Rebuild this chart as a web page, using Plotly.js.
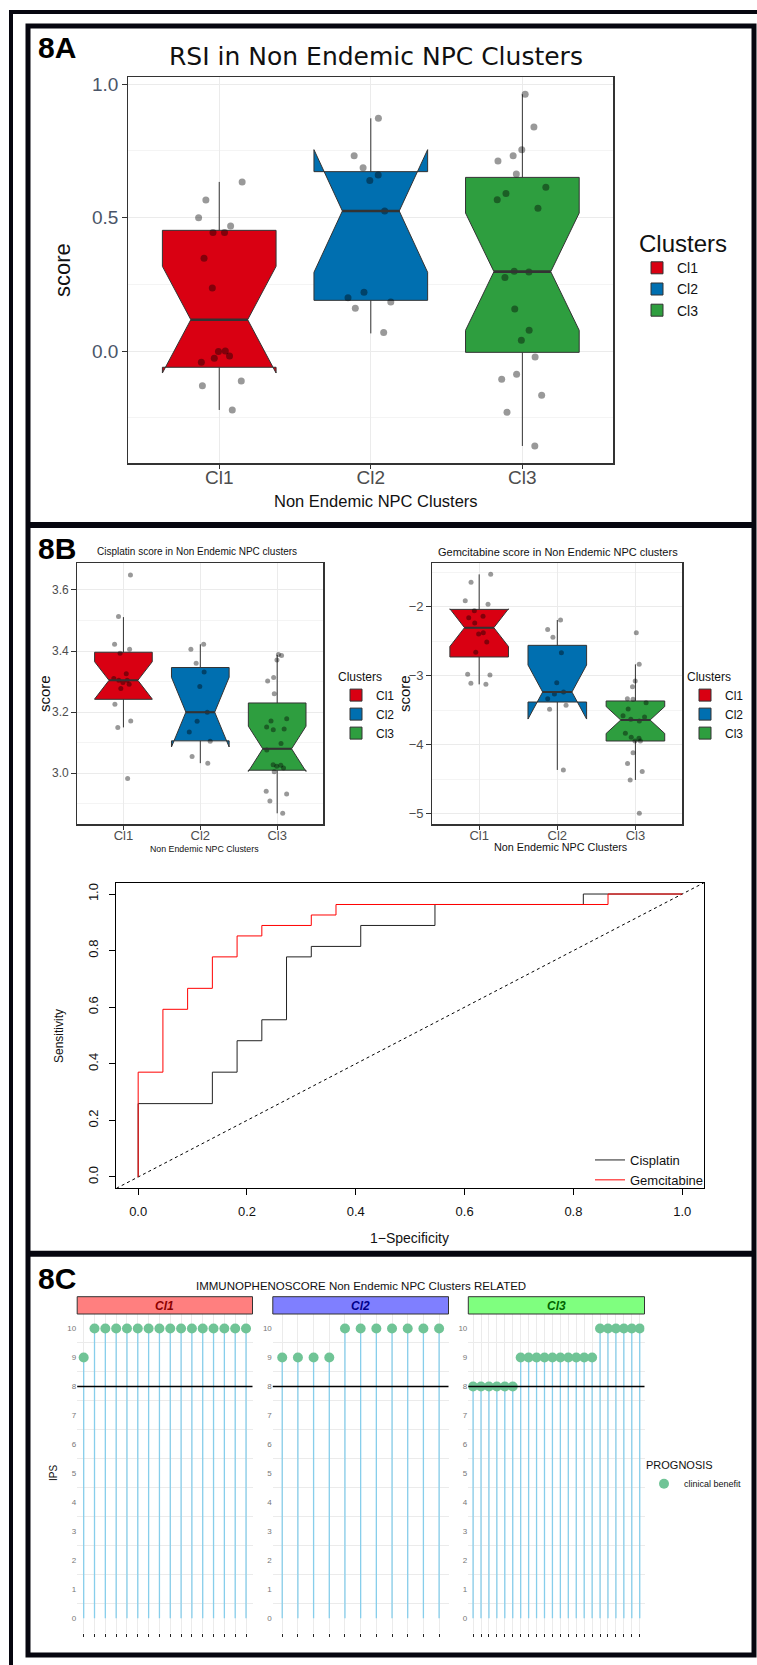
<!DOCTYPE html>
<html><head><meta charset="utf-8">
<script src="https://cdn.plot.ly/plotly-3.0.1.min.js"></script>
<style>html,body{margin:0;padding:0;background:#fff;} #chart{width:757px;height:1665px;}</style>
</head><body><div id="chart"></div>
<script>
const W = 757, H = 1665;
const px = v => v / W, py = v => 1 - v / H;

const SANS = "'Liberation Sans', Arial, sans-serif";
const DEJAVU = "'DejaVu Sans', sans-serif";

// ---------- shared ----------
const clusters = ['Cl1', 'Cl2', 'Cl3'];
const clusterFill = ['#D90012', '#006FB0', '#2E9E3F'];

// ---------- 8A : RSI ----------
const rsiCl1 = [0.634, 0.566, 0.5, 0.469, 0.444, 0.444, 0.3475, 0.236, 0.0, -0.002, -0.0275, -0.019, -0.0425, -0.1125, -0.13, -0.221];
const rsiCl2 = [0.8725, 0.7325, 0.6875, 0.66, 0.639, 0.525, 0.22, 0.2, 0.184, 0.16, 0.069];
const rsiCl3 = [0.9625, 0.84, 0.755, 0.7325, 0.7125, 0.664, 0.614, 0.591, 0.5675, 0.535, 0.299, 0.296, 0.276, 0.1575, 0.0775, 0.04, -0.0225, -0.0875, -0.106, -0.166, -0.23, -0.356];
const rsiQ1 = [-0.061, 0.19, -0.005];
const rsiMedian = [0.1175, 0.525, 0.2975];
const rsiQ3 = [0.4525, 0.6725, 0.651];
const rsiLower = [-0.221, 0.066, -0.356];
const rsiUpper = [0.634, 0.8725, 0.9625];
const rsiNotch = [0.2, 0.23, 0.22];

// ---------- 8B : Cisplatin ----------
const cisCl1 = [3.649, 3.513, 3.422, 3.406, 3.393, 3.326, 3.31, 3.304, 3.304, 3.297, 3.291, 3.277, 3.226, 3.171, 3.15, 2.983];
const cisCl2 = [3.422, 3.406, 3.36, 3.331, 3.284, 3.2, 3.17, 3.135, 3.105, 3.055, 3.033];
const cisCl3 = [3.389, 3.385, 3.371, 3.313, 3.302, 3.26, 3.178, 3.171, 3.151, 3.145, 3.142, 3.097, 3.076, 3.028, 3.026, 3.023, 3.017, 3.005, 2.941, 2.932, 2.909, 2.869];
const cisQ1 = [3.242, 3.106, 3.01];
const cisMedian = [3.304, 3.2, 3.08];
const cisQ3 = [3.396, 3.346, 3.23];
const cisLower = [3.15, 3.033, 2.869];
const cisUpper = [3.511, 3.422, 3.387];
const cisNotch = [0.061, 0.114, 0.074];

// ---------- 8B : Gemcitabine ----------
const gemCl1 = [-1.531, -1.647, -1.913, -1.966, -2.058, -2.14, -2.159, -2.237, -2.377, -2.396, -2.512, -2.662, -2.981, -2.99, -3.111, -3.126];
const gemCl2 = [-2.193, -2.329, -2.444, -2.667, -3.101, -3.237, -3.266, -3.333, -3.43, -3.488, -4.367];
const gemCl3 = [-2.377, -2.836, -3.077, -3.159, -3.333, -3.343, -3.391, -3.483, -3.58, -3.6, -3.633, -3.657, -3.836, -3.894, -3.908, -3.947, -3.947, -4.116, -4.275, -4.391, -4.512, -4.995];
const gemQ1 = [-2.729, -3.382, -3.947];
const gemMedian = [-2.304, -3.237, -3.643];
const gemQ3 = [-2.039, -2.56, -3.367];
const gemLower = [-3.126, -4.367, -4.512];
const gemUpper = [-1.531, -2.193, -2.836];
const gemNotch = [0.273, 0.392, 0.195];

// ---------- ROC ----------
const cisFPR = [0, 0.1364, 0.1818, 0.2273, 0.2727, 0.3182, 0.4091, 0.5455, 0.8182, 1.0];
const cisTPR = [0, 0.2593, 0.3704, 0.4815, 0.5556, 0.7778, 0.8148, 0.8889, 0.9630, 1.0];
const gemFPR = [0, 0.0455, 0.0909, 0.1364, 0.1818, 0.2273, 0.3182, 0.3636, 0.8636, 1.0];
const gemTPR = [0, 0.3704, 0.5926, 0.6667, 0.7778, 0.8519, 0.8889, 0.9259, 0.9630, 1.0];
const rocRange = [-0.04, 1.04];

// ---------- 8C : IPS ----------
const ipsCl1 = [9, 10, 10, 10, 10, 10, 10, 10, 10, 10, 10, 10, 10, 10, 10, 10];
const ipsCl2 = [9, 9, 9, 9, 10, 10, 10, 10, 10, 10, 10];
const ipsCl3 = [8, 8, 8, 8, 8, 8, 9, 9, 9, 9, 9, 9, 9, 9, 9, 9, 10, 10, 10, 10, 10, 10];
const ipsThreshold = 8;
const stripFill = ['#FF7F7F', '#7F7FFF', '#7FFF7F'];
const stripText = ['#8B0000', '#00008B', '#006400'];

const traces = [], shapes = [], annotations = [];

function boxPanel(xa, ya, legendId, pts, q1, med, q3, lo, hi, notch, ptSize, medW) {
  clusters.forEach((c, i) => {
    traces.push({
      type: 'box', xaxis: xa, yaxis: ya, name: c, legend: legendId,
      x: [c], q1: [q1[i]], median: [med[i]], q3: [q3[i]],
      lowerfence: [lo[i]], upperfence: [hi[i]], notchspan: [notch[i]],
      notched: true, notchwidth: 0.25, width: 0.75, whiskerwidth: 0,
      fillcolor: clusterFill[i], line: {color: '#333333', width: 1}, boxpoints: false, hoverinfo: 'skip'
    });
  });
  clusters.forEach((c, i) => {
    traces.push({
      type: 'box', xaxis: xa, yaxis: ya, name: c, showlegend: false,
      x: pts[i].map(() => c), y: pts[i], boxpoints: 'all', jitter: 0.5, pointpos: 0, width: 0.75,
      fillcolor: 'rgba(0,0,0,0)', line: {color: 'rgba(0,0,0,0)', width: 0}, whiskerwidth: 0,
      marker: {color: 'rgba(0,0,0,0.4)', size: ptSize, line: {width: 0}}, hoverinfo: 'skip'
    });
  });
  med.forEach((m, i) => shapes.push({
    type: 'line', xref: xa, yref: ya, x0: i - 0.1875, x1: i + 0.1875, y0: m, y1: m,
    line: {color: '#333333', width: medW}, layer: 'above'
  }));
}

boxPanel('x', 'y', 'legend', [rsiCl1, rsiCl2, rsiCl3], rsiQ1, rsiMedian, rsiQ3, rsiLower, rsiUpper, rsiNotch, 7, 2.6);
boxPanel('x2', 'y2', 'legend2', [cisCl1, cisCl2, cisCl3], cisQ1, cisMedian, cisQ3, cisLower, cisUpper, cisNotch, 5, 2);
boxPanel('x3', 'y3', 'legend3', [gemCl1, gemCl2, gemCl3], gemQ1, gemMedian, gemQ3, gemLower, gemUpper, gemNotch, 5, 2);

// ROC
traces.push({type: 'scatter', mode: 'lines', xaxis: 'x4', yaxis: 'y4', x: rocRange, y: rocRange,
  line: {color: '#000', width: 1, dash: 'dot'}, showlegend: false, hoverinfo: 'skip'});
traces.push({type: 'scatter', mode: 'lines', xaxis: 'x4', yaxis: 'y4', x: cisFPR, y: cisTPR, name: 'Cisplatin',
  legend: 'legend4', line: {color: '#222', width: 1, shape: 'vh'}, hoverinfo: 'skip'});
traces.push({type: 'scatter', mode: 'lines', xaxis: 'x4', yaxis: 'y4', x: gemFPR, y: gemTPR, name: 'Gemcitabine',
  legend: 'legend4', line: {color: '#FF0000', width: 1, shape: 'vh'}, hoverinfo: 'skip'});

// 8C
const ipsSets = [ipsCl1, ipsCl2, ipsCl3];
ipsSets.forEach((vals, k) => {
  const xa = 'x' + (5 + k), ya = 'y' + (5 + k);
  traces.push({
    type: 'scatter', mode: 'markers', xaxis: xa, yaxis: ya, name: 'clinical benefit',
    legend: 'legend5', showlegend: k === 0,
    x: vals.map((_, i) => i + 1), y: vals,
    marker: {color: '#70C496', size: 10},
    error_y: {type: 'data', symmetric: false, array: vals.map(() => 0), arrayminus: vals, width: 0, thickness: 1.3, color: '#87CEEB'},
    hoverinfo: 'skip'
  });
  shapes.push({type: 'line', xref: xa + ' domain', yref: ya, x0: 0, x1: 1, y0: ipsThreshold, y1: ipsThreshold,
    line: {color: '#000', width: 1.5}, layer: 'above'});
  shapes.push({type: 'rect', xref: xa + ' domain', yref: 'paper', x0: 0, x1: 1, y0: py(1314), y1: py(1296.7),
    fillcolor: stripFill[k], line: {color: '#333', width: 1}});
  annotations.push({text: clusters[k], xref: xa + ' domain', yref: 'paper', x: 0.5, y: py(1305.5),
    showarrow: false, xanchor: 'center', yanchor: 'middle',
    font: {family: SANS, size: 12, color: stripText[k], weight: 'bold', style: 'italic'}});
});

// frames
const frameCol = '#06060f';
shapes.push({type: 'rect', xref: 'paper', yref: 'paper', x0: px(11), x1: px(800), y0: py(12), y1: py(1720),
  line: {color: frameCol, width: 4}, fillcolor: 'rgba(0,0,0,0)', layer: 'above'});
shapes.push({type: 'rect', xref: 'paper', yref: 'paper', x0: px(28), x1: px(754), y0: py(26), y1: py(1655),
  line: {color: frameCol, width: 5}, fillcolor: 'rgba(0,0,0,0)', layer: 'above'});
[525, 1253.7].forEach(yy => shapes.push({type: 'line', xref: 'paper', yref: 'paper', x0: px(28), x1: px(754),
  y0: py(yy), y1: py(yy), line: {color: frameCol, width: 6}, layer: 'above'}));

function ann(text, x, y, font, extra) {
  annotations.push(Object.assign({text, xref: 'paper', yref: 'paper', x: px(x), y: py(y), showarrow: false,
    xanchor: 'center', yanchor: 'middle', font}, extra || {}));
}
ann('8A', 36, 47, {family: SANS, size: 30, color: '#000', weight: 'bold'}, {xanchor: 'left'});
ann('8B', 36, 549, {family: SANS, size: 30, color: '#000', weight: 'bold'}, {xanchor: 'left'});
ann('8C', 36, 1278, {family: SANS, size: 30, color: '#000', weight: 'bold'}, {xanchor: 'left'});
ann('RSI in Non Endemic NPC Clusters', 376, 57, {family: DEJAVU, size: 25, color: '#111'});
ann('Non Endemic NPC Clusters', 376, 501, {family: SANS, size: 16.5, color: '#111'});
ann('score', 62, 270, {family: SANS, size: 22, color: '#111'}, {textangle: -90});
ann('Cisplatin score in Non Endemic NPC clusters', 197, 552, {family: SANS, size: 10, color: '#111'});
ann('Non Endemic NPC Clusters', 204, 849, {family: SANS, size: 8.8, color: '#111'});
ann('score', 44, 694, {family: SANS, size: 15, color: '#111'}, {textangle: -90});
ann('Gemcitabine score in Non Endemic NPC clusters', 558, 552, {family: SANS, size: 11, color: '#111'});
ann('Non Endemic NPC Clusters', 561, 847, {family: SANS, size: 10.8, color: '#111'});
ann('score', 404, 694, {family: SANS, size: 15, color: '#111'}, {textangle: -90});
ann('1\u2212Specificity', 410, 1238, {family: SANS, size: 14, color: '#111'});
ann('Sensitivity', 59, 1036, {family: SANS, size: 12, color: '#111'}, {textangle: -90});
ann('IMMUNOPHENOSCORE Non Endemic NPC Clusters RELATED', 361, 1285.5, {family: SANS, size: 11.5, color: '#111'});
ann('IPS', 53, 1473, {family: SANS, size: 10, color: '#111'}, {textangle: -90});

function ggX(domL, domR, anchor, fs, stand) {
  return {domain: [px(domL), px(domR)], anchor, type: 'category', categoryorder: 'array', categoryarray: clusters,
    range: [-0.6, 2.6], showgrid: true, gridcolor: '#EBEBEB', gridwidth: 1, zeroline: false,
    showline: true, mirror: true, linecolor: '#333333', linewidth: 1.2,
    ticks: 'outside', ticklen: 4, tickcolor: '#333333', tickwidth: 1, ticklabelstandoff: stand,
    tickfont: {family: SANS, size: fs, color: '#4D4D4D'}, fixedrange: true};
}
function ggY(top, bot, anchor, range, dtick, fmt, fs, col) {
  return {domain: [py(bot), py(top)], anchor, range, tickmode: 'linear', tick0: 0, dtick, tickformat: fmt,
    showgrid: true, gridcolor: '#EBEBEB', gridwidth: 1, zeroline: false,
    minor: {dtick: dtick / 2, showgrid: true, gridcolor: '#F4F4F4', gridwidth: 1},
    showline: true, mirror: true, linecolor: '#333333', linewidth: 1.2,
    ticks: 'outside', ticklen: 5, tickcolor: '#333333', tickwidth: 1,
    tickfont: {family: SANS, size: fs, color: col || '#4D4D4D'}, fixedrange: true};
}
function ipsX(l, r, anchor, n) {
  return {domain: [px(l), px(r)], anchor, range: [0.4, n + 0.6], tickmode: 'linear', tick0: 1, dtick: 1,
    showticklabels: false, ticks: 'outside', ticklen: 3, tickcolor: '#222', tickwidth: 1,
    showgrid: true, gridcolor: '#EBEBEB', zeroline: false, showline: false, fixedrange: true};
}
function ipsY(anchor) {
  return {domain: [py(1632.8), py(1314)], anchor, range: [-0.5, 10.5], tickmode: 'linear', tick0: 0, dtick: 1,
    showgrid: false, zeroline: false, showline: false, ticks: '',
    minor: {tick0: 0.5, dtick: 1, showgrid: true, gridcolor: '#EBEBEB', ticks: ''},
    tickfont: {family: SANS, size: 8, color: '#777'}, fixedrange: true};
}

const layout = {
  width: W, height: H, margin: {l: 0, r: 0, t: 0, b: 0},
  paper_bgcolor: '#ffffff', plot_bgcolor: '#ffffff', boxmode: 'overlay', showlegend: true,
  xaxis: ggX(128.3, 613.3, 'y', 19, -7),
  yaxis: ggY(76.7, 463.3, 'x', [-0.421, 1.0285], 0.5, '.1f', 19, '#4A5568'),
  xaxis2: ggX(77.3, 323.3, 'y2', 13, -5),
  yaxis2: ggY(562.7, 824.3, 'x2', [2.833, 3.689], 0.2, '.1f', 12),
  xaxis3: ggX(432.3, 682.3, 'y3', 13, -5),
  yaxis3: ggY(562.7, 824.3, 'x3', [-5.155, -1.362], 1, 'd', 13),
  xaxis4: {domain: [px(116.4), px(704)], anchor: 'y4', range: rocRange, tickmode: 'linear', tick0: 0, dtick: 0.2,
    tickformat: '.1f', showgrid: false, zeroline: false, showline: true, mirror: true, linecolor: '#000', linewidth: 1,
    ticks: 'outside', ticklen: 6, tickcolor: '#000', ticklabelstandoff: 5,
    tickfont: {family: SANS, size: 13, color: '#111'}, fixedrange: true},
  yaxis4: {domain: [py(1188.3), py(882.7)], anchor: 'x4', range: rocRange, tickmode: 'linear', tick0: 0, dtick: 0.2,
    tickformat: '.1f', tickangle: -90, showgrid: false, zeroline: false, showline: true, mirror: true, linecolor: '#000', linewidth: 1,
    ticks: 'outside', ticklen: 6, tickcolor: '#000', ticklabelstandoff: 6,
    tickfont: {family: SANS, size: 13, color: '#111'}, fixedrange: true},
  xaxis5: ipsX(77.2, 252.5, 'y5', ipsCl1.length), yaxis5: ipsY('x5'),
  xaxis6: ipsX(272.8, 448.5, 'y6', ipsCl2.length), yaxis6: ipsY('x6'),
  xaxis7: ipsX(468.3, 644.5, 'y7', ipsCl3.length), yaxis7: ipsY('x7'),
  legend: {x: px(637), y: py(221), xanchor: 'left', yanchor: 'top', bgcolor: 'rgba(0,0,0,0)',
    title: {text: 'Clusters', font: {family: SANS, size: 24, color: '#111'}},
    font: {family: SANS, size: 14, color: '#111'}},
  legend2: {x: px(336), y: py(665), xanchor: 'left', yanchor: 'top', bgcolor: 'rgba(0,0,0,0)',
    title: {text: 'Clusters', font: {family: SANS, size: 12, color: '#111'}},
    font: {family: SANS, size: 12, color: '#111'}},
  legend3: {x: px(685), y: py(665), xanchor: 'left', yanchor: 'top', bgcolor: 'rgba(0,0,0,0)',
    title: {text: 'Clusters', font: {family: SANS, size: 12, color: '#111'}},
    font: {family: SANS, size: 12, color: '#111'}},
  legend4: {x: px(590), y: py(1145), xanchor: 'left', yanchor: 'top', bgcolor: 'rgba(0,0,0,0)',
    font: {family: SANS, size: 13, color: '#111'}},
  legend5: {x: px(644), y: py(1455), xanchor: 'left', yanchor: 'top', bgcolor: 'rgba(0,0,0,0)',
    title: {text: 'PROGNOSIS', font: {family: SANS, size: 11, color: '#111'}},
    font: {family: SANS, size: 9, color: '#111'}},
  shapes, annotations
};

Plotly.newPlot('chart', traces, layout, {staticPlot: true, displayModeBar: false});
</script></body></html>
